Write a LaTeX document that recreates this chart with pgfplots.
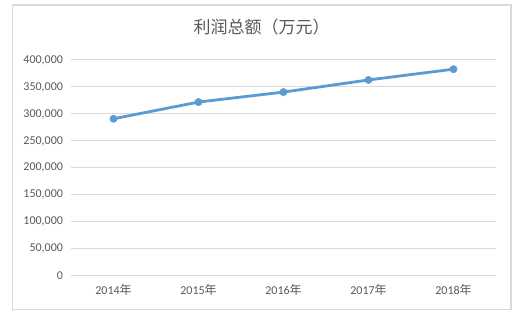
\documentclass[border=0pt]{standalone}
\usepackage{fontspec}
\setmainfont{Carlito}
\newfontfamily\cjk{Noto Sans CJK SC}
\usepackage{pgfplots}
\pgfplotsset{compat=1.18}
\definecolor{linecol}{HTML}{5B9BD5}
\definecolor{gridcol}{HTML}{D9D9D9}
\definecolor{txt}{HTML}{595959}
\begin{document}
\begin{tikzpicture}[x=1pt,y=1pt]
\path[use as bounding box, fill=white] (0,0) rectangle (529,315);
\draw[gridcol, line width=1.2pt] (12.5,5.3) rectangle (511,310);
\node[text=txt, font=\cjk\fontsize{17}{20}\selectfont] at (261.5,288) {利润总额（万元）};
\begin{axis}[
  at={(71pt,39.3pt)}, anchor=south west,
  width=425pt, height=215.7pt, scale only axis,
  xmin=-0.5, xmax=4.5, ymin=0, ymax=400000,
  axis line style={draw=none},
  major tick length=0pt,
  xtick={0,1,2,3,4},
  xticklabels={2014{\cjk 年},2015{\cjk 年},2016{\cjk 年},2017{\cjk 年},2018{\cjk 年}},
  ytick={0,50000,...,400000},
  scaled y ticks=false,
  yticklabel style={/pgf/number format/fixed, /pgf/number format/1000 sep={,}, xshift=-4.5pt},
  xticklabel style={yshift=-5pt},
  ymajorgrids, grid style={gridcol, line width=1pt},
  tick label style={text=txt, font=\fontsize{12}{14}\selectfont},
  /pgf/number format/assume math mode=true,
  clip=false,
]
\addplot[linecol, line width=2.8pt, mark=*, mark size=3.6pt, mark options={solid, fill=linecol, draw=linecol, line width=0.6pt}]
  coordinates {(0,291000) (1,322000) (2,340500) (3,363000) (4,383000)};
\end{axis}
\end{tikzpicture}
\end{document}
